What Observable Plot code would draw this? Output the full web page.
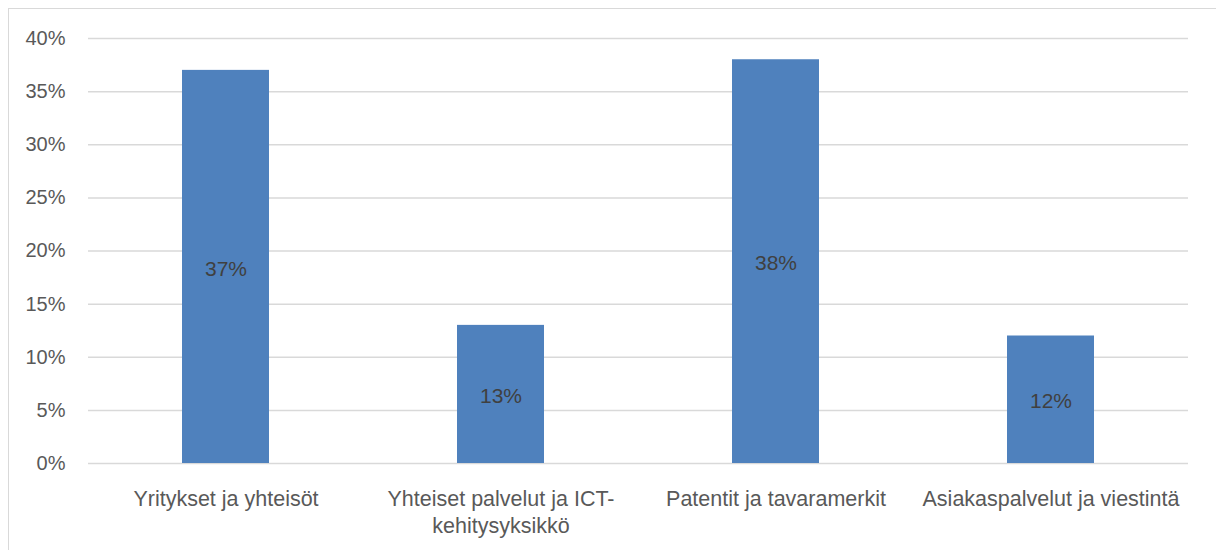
<!DOCTYPE html>
<html>
<head>
<meta charset="utf-8">
<script src="https://cdn.jsdelivr.net/npm/d3@7"></script>
<script src="https://cdn.jsdelivr.net/npm/@observablehq/plot@0.6"></script>
<style>
  html, body { margin: 0; padding: 0; background: #fff; }
  #frame { position: absolute; left: 8px; top: 8px; width: 1240px; height: 600px; border: 1.5px solid #d9d9d9; box-sizing: border-box; }
  #chart { position: absolute; left: 0; top: 0; }
  svg text { font-family: "Liberation Sans", Arial, sans-serif; }
</style>
</head>
<body>
<div id="frame"></div>
<div id="chart"></div>
<script>
const categories = ["Yritykset ja yhteisöt", "Yhteiset palvelut ja ICT-kehitysyksikkö", "Patentit ja tavaramerkit", "Asiakaspalvelut ja viestintä"];
const tickLabels = ["Yritykset ja yhteisöt", "Yhteiset palvelut ja ICT-\nkehitysyksikkö", "Patentit ja tavaramerkit", "Asiakaspalvelut ja viestintä"];
const values = [0.37, 0.13, 0.38, 0.12];
const yTicks = [0, 0.05, 0.10, 0.15, 0.20, 0.25, 0.30, 0.35, 0.40];

const data = categories.map((c, i) => ({category: c, value: values[i]}));
const labelOf = new Map(categories.map((c, i) => [c, tickLabels[i]]));

const chart = Plot.plot({
  width: 1216,
  height: 550,
  marginLeft: 88,
  marginRight: 28,
  marginTop: 38,
  marginBottom: 87,
  style: {fontSize: "20px", color: "#595959", background: "transparent"},
  x: {domain: categories, paddingInner: 0.684, paddingOuter: 0.342, align: 0.5, label: null},
  y: {domain: [0, 0.40], ticks: yTicks, label: null},
  marks: [
    Plot.gridY(yTicks, {stroke: "#d9d9d9", strokeOpacity: 1, strokeWidth: 1.5}),
    Plot.barY(data, {x: "category", y: "value", fill: "#4f81bd"}),
    Plot.text(data, {x: "category", y: d => d.value / 2, dy: 2, text: d => d3.format(".0%")(d.value), fill: "#404040", fontSize: 21}),
    Plot.axisY(yTicks, {tickSize: 0, tickPadding: 23, tickFormat: d3.format(".0%"), fill: "#595959", fontSize: 20, label: null}),
    Plot.axisX({tickSize: 0, tickPadding: 23, tickFormat: c => labelOf.get(c), fill: "#595959", fontSize: 21.5, label: null, lineHeight: 1.27})
  ]
});
document.getElementById("chart").appendChild(chart);
</script>
</body>
</html>
